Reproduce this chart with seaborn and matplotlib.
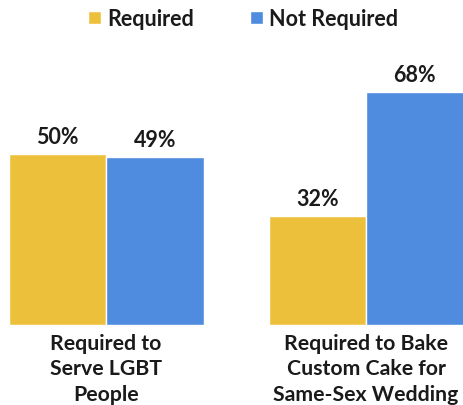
import matplotlib
matplotlib.use("Agg")
import matplotlib.pyplot as plt
import pandas as pd
import seaborn as sns
from matplotlib.patches import Patch

categories = ["Required to\nServe LGBT\nPeople", "Required to Bake\nCustom Cake for\nSame-Sex Wedding"]
series = ["Required", "Not Required"]
required = [50, 32]
not_required = [49, 68]
colors = ["#EDC03B", "#4F8CDF"]


def main():
    df = pd.DataFrame({
        "category": categories * 2,
        "answer": [series[0]] * 2 + [series[1]] * 2,
        "pct": required + not_required,
    })

    sns.set_style("white")
    plt.rcParams["font.family"] = ["Lato", "DejaVu Sans"]
    plt.rcParams["font.weight"] = "bold"

    fig = plt.figure(figsize=(4.63, 4.06), dpi=100)
    ax = fig.add_axes([0, 80 / 406, 1, 326 / 406])
    sns.barplot(data=df, x="category", y="pct", hue="answer", hue_order=series,
                palette=colors, width=0.75, saturation=1, ax=ax, legend=False)

    for container in ax.containers:
        ax.bar_label(container, fmt="%d%%", padding=5, fontsize=15.5, fontweight="bold", color="#1a1a1a")

    ax.set_xlim(-0.408, 1.373)
    ax.set_ylim(0, 95.3)
    ax.set_xlabel("")
    ax.set_ylabel("")
    ax.set_yticks([])
    ax.tick_params(axis="x", length=0, pad=6, labelsize=15.3)
    for lbl in ax.get_xticklabels():
        lbl.set_fontweight("bold")
        lbl.set_linespacing(1.32)
        lbl.set_color("#1a1a1a")
    sns.despine(ax=ax, left=True, bottom=True)

    handles = [Patch(facecolor=c, label=s) for c, s in zip(colors, series)]
    fig.legend(handles=handles, loc="upper center", bbox_to_anchor=(0.525, 1.025), ncol=2,
               frameon=False, prop={"size": 15.5, "weight": "bold"}, handlelength=0.6,
               handleheight=0.6, handletextpad=0.3, columnspacing=2.6,
               labelcolor="#1a1a1a")

    fig.savefig("out.png", dpi=100)


if __name__ == "__main__":
    main()
